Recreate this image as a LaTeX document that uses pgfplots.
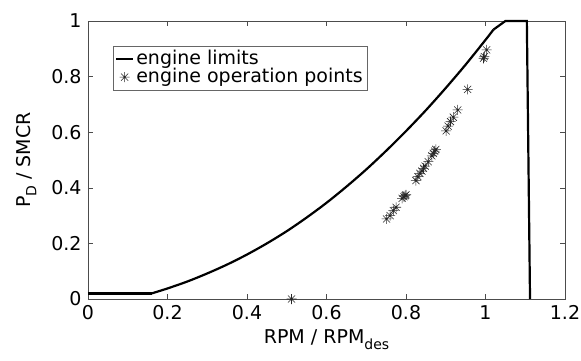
\documentclass[border=0pt]{standalone}
\usepackage{fontspec}
\setmainfont{DejaVu Sans}
\usepackage{pgfplots}
\pgfplotsset{compat=1.18}
\pgfdeclareplotmark{mstar}{%
 \pgfpathmoveto{\pgfqpoint{-\pgfplotmarksize}{0pt}}\pgfpathlineto{\pgfqpoint{\pgfplotmarksize}{0pt}}%
 \pgfpathmoveto{\pgfqpoint{0pt}{-\pgfplotmarksize}}\pgfpathlineto{\pgfqpoint{0pt}{\pgfplotmarksize}}%
 \pgfpathmoveto{\pgfqpoint{-.707\pgfplotmarksize}{-.707\pgfplotmarksize}}\pgfpathlineto{\pgfqpoint{.707\pgfplotmarksize}{.707\pgfplotmarksize}}%
 \pgfpathmoveto{\pgfqpoint{-.707\pgfplotmarksize}{.707\pgfplotmarksize}}\pgfpathlineto{\pgfqpoint{.707\pgfplotmarksize}{-.707\pgfplotmarksize}}%
 \pgfusepathqstroke}
\begin{document}
\fontsize{19}{22}\selectfont
\begin{tikzpicture}
\path[use as bounding box] (-88pt,-61pt) rectangle (493pt,299pt);
\begin{axis}[
 at={(0pt,0pt)}, anchor=south west,
 scale only axis, width=477pt, height=278pt,
 xmin=0, xmax=1.2, ymin=0, ymax=1,
 xtick={0,0.2,0.4,0.6,0.8,1,1.2},
 ytick={0,0.2,0.4,0.6,0.8,1},
 tick align=inside, major tick length=5pt,
 axis line style={black!70, line width=0.8pt},
 tick style={black!70, line width=0.6pt},
 /pgf/number format/assume math mode=true,
 ticklabel style={font=\fontsize{19}{22}\selectfont},
 label style={font=\fontsize{19}{22}\selectfont},
 xlabel={RPM / RPM\raisebox{-0.6ex}{\fontsize{14}{14}\selectfont des}},
 ylabel={P\raisebox{-0.6ex}{\fontsize{14}{14}\selectfont D} / SMCR},
 xlabel style={yshift=3pt},
 ylabel style={yshift=2pt},
 legend style={at={(0.052,0.91)}, anchor=north west, draw=black!60,
   font=\fontsize{19}{22}\selectfont, row sep=-3pt, inner sep=2pt},
 legend cell align=left,
 clip=false,
]
\addplot[black, line width=2.2pt] coordinates {
(1.02,0.969) (1.05,1.0) (1.104,1.0) (1.112,0)
};
\addlegendentry{engine limits}
\addplot[only marks, mark=mstar, mark size=5pt, black!85, line width=0.55pt] coordinates {
(0.512,0) (0.751,0.288) (0.760,0.300) (0.768,0.318) (0.775,0.330)
(0.790,0.362) (0.795,0.368) (0.798,0.372) (0.800,0.375)
(0.825,0.426) (0.830,0.440) (0.835,0.452) (0.840,0.460) (0.844,0.470) (0.848,0.478)
(0.856,0.494) (0.865,0.515) (0.869,0.524) (0.872,0.532) (0.875,0.538)
(0.901,0.605) (0.906,0.622) (0.912,0.638) (0.919,0.654) (0.930,0.680)
(0.955,0.754) (0.995,0.866) (0.997,0.872) (1.003,0.896)
};
\addlegendentry{engine operation points}
\addplot[black, line width=2.2pt, forget plot] coordinates {
(0,0.02) (0.16,0.02)
};
\addplot[black, line width=2.2pt, smooth, forget plot] coordinates {
(0.16,0.02) (0.2,0.038) (0.25,0.063) (0.3,0.092) (0.35,0.124) (0.4,0.160)
(0.45,0.200) (0.5,0.244) (0.55,0.293) (0.6,0.346) (0.65,0.404) (0.7,0.466)
(0.75,0.533) (0.8,0.604) (0.85,0.679) (0.9,0.759) (0.95,0.843) (1.0,0.932)
(1.02,0.969)
};
\end{axis}
\end{tikzpicture}
\end{document}
